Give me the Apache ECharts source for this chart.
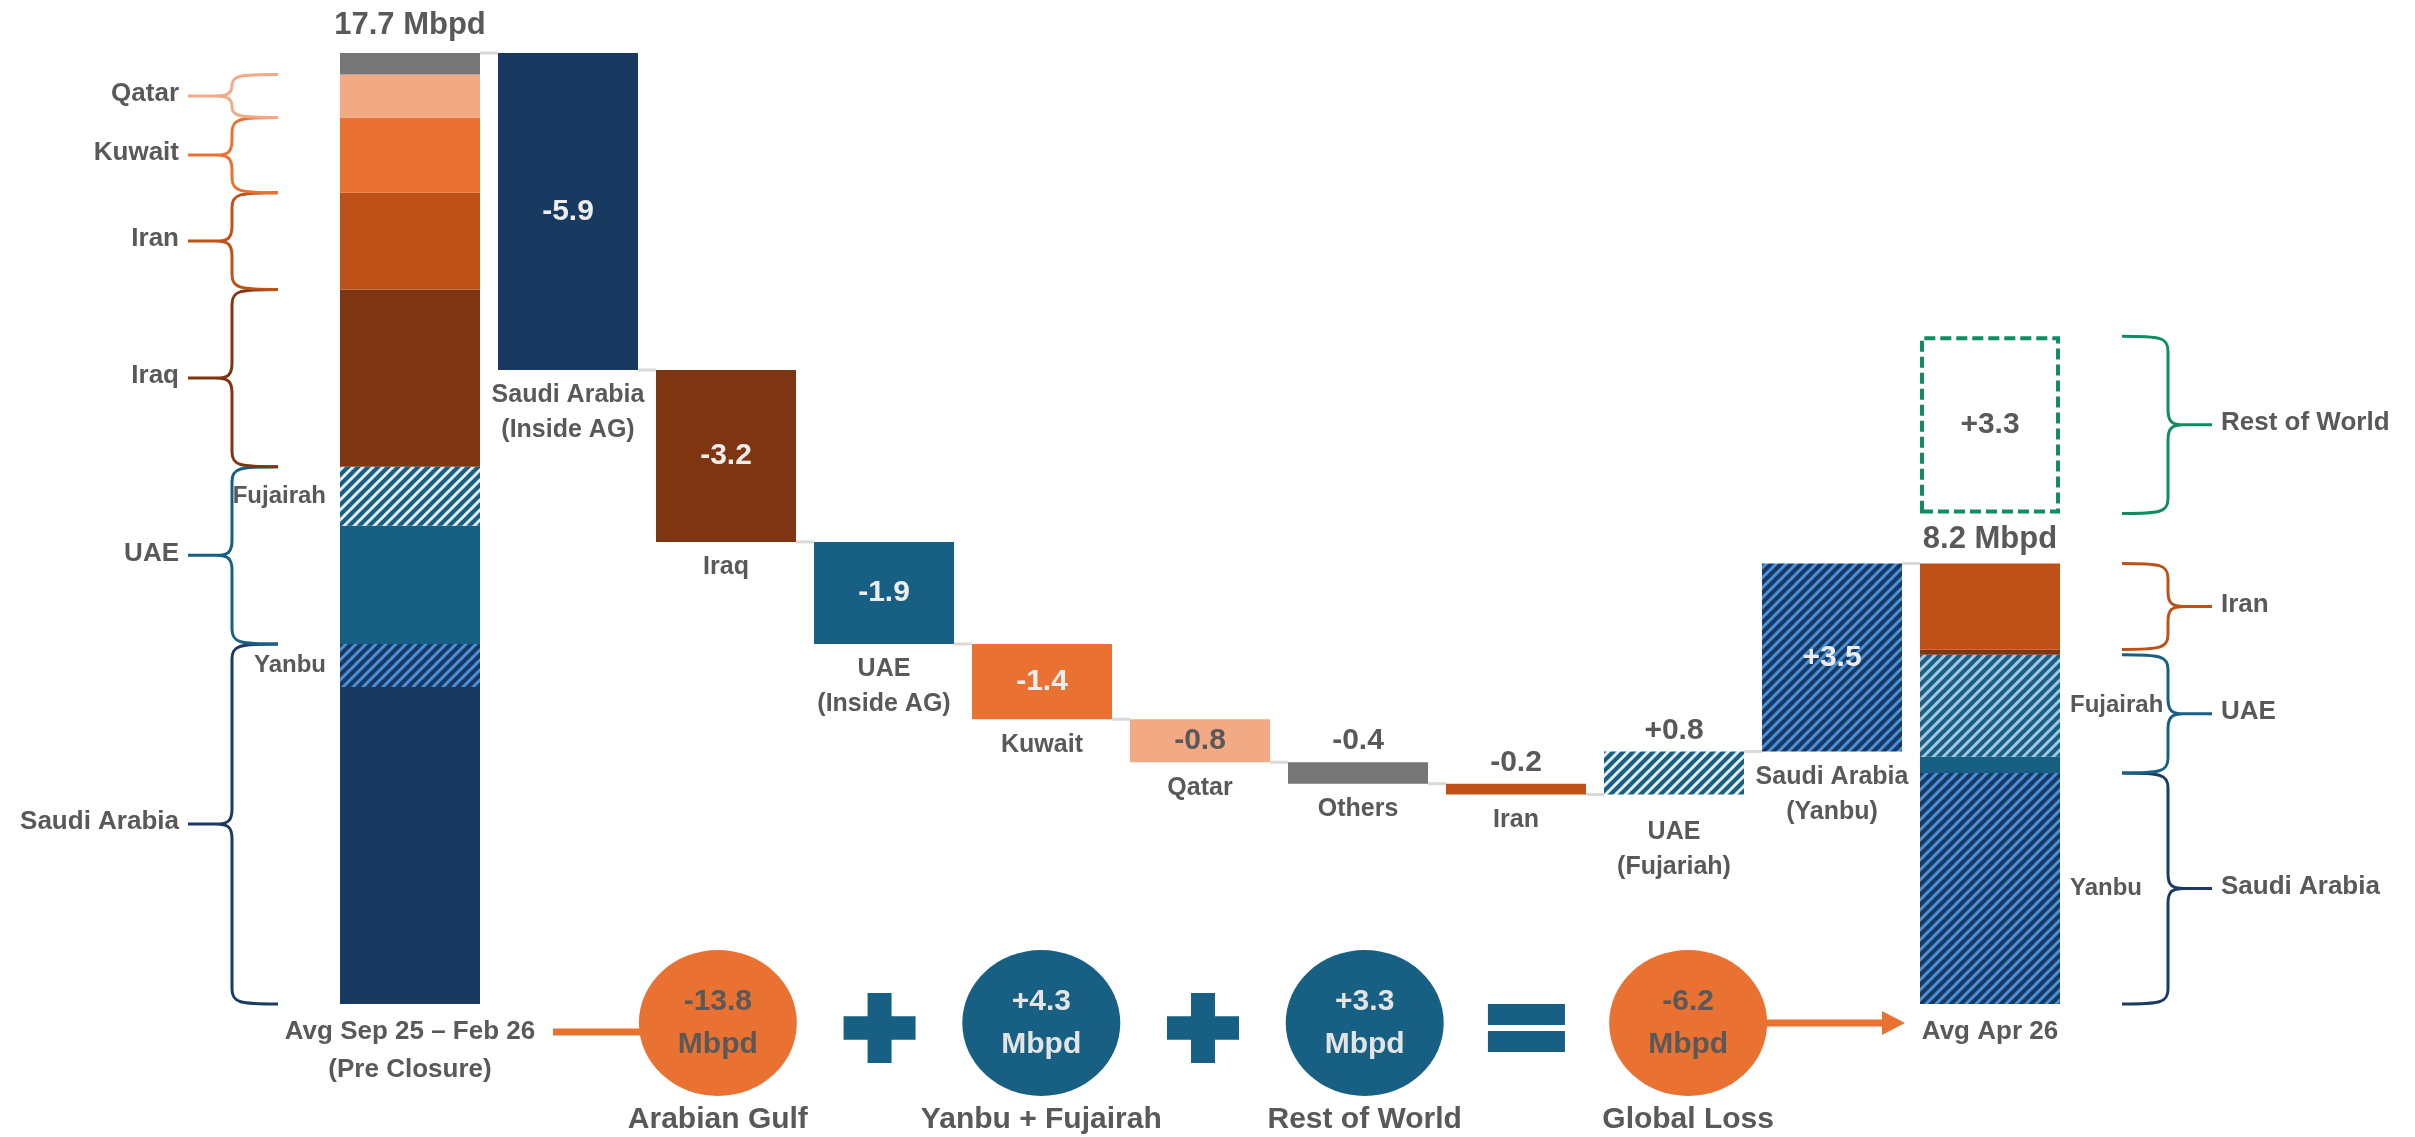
<!DOCTYPE html>
<html><head><meta charset="utf-8">
<script src="https://cdn.jsdelivr.net/npm/echarts@6/dist/echarts.min.js"></script>
<style>html,body{margin:0;padding:0;background:#fff}#chart{width:2415px;height:1137px}</style>
</head><body><div id="chart"></div>
<script>
// ================= DATA =================
const categories = ['Avg Sep 25 – Feb 26\n(Pre Closure)', 'Saudi Arabia\n(Inside AG)', 'Iraq', 'UAE\n(Inside AG)', 'Kuwait', 'Qatar', 'Others', 'Iran', 'UAE\n(Fujariah)', 'Saudi Arabia\n(Yanbu)', 'Avg Apr 26'];
const segments = ['Saudi Arabia', 'Yanbu', 'UAE', 'Fujairah', 'Iraq', 'Iran', 'Kuwait', 'Qatar', 'Others'];
const preClosure = [5.9, 0.8, 2.2, 1.1, 3.3, 1.8, 1.4, 0.8, 0.4];
const changeSegments = ['Saudi Arabia', 'Iraq', 'UAE', 'Kuwait', 'Qatar', 'Others', 'Iran', 'Fujairah', 'Yanbu'];
const changes = [-5.9, -3.2, -1.9, -1.4, -0.8, -0.4, -0.2, 0.8, 3.5];
const april = [0, 4.3, 0.3, 1.9, 0.1, 1.6, 0, 0, 0];
const restOfWorld = 3.3;
const unit = 'Mbpd';
const leftBraceNames = ['Saudi Arabia', 'UAE', 'Iraq', 'Iran', 'Kuwait', 'Qatar'];
const leftBraceSegments = [['Saudi Arabia', 'Yanbu'], ['UAE', 'Fujairah'], ['Iraq'], ['Iran'], ['Kuwait'], ['Qatar']];
const rightBraceNames = ['Saudi Arabia', 'UAE', 'Iran', 'Rest of World'];
const rightBraceSegments = [['Saudi Arabia', 'Yanbu'], ['UAE', 'Fujairah'], ['Iran'], ['Rest of World']];
const subLabels = ['Yanbu', 'Fujairah'];
const eqValues = [-13.8, 4.3, 3.3, -6.2];
const eqNames = ['Arabian Gulf', 'Yanbu + Fujairah', 'Rest of World', 'Global Loss'];
const eqOps = ['+', '+', '='];

// ================= STYLE / LAYOUT =================
const TXT = '#595959', LIGHT = '#EDEDED';
const FONT = "'Liberation Sans', Arial, Helvetica, sans-serif";
const NAVY = '#193A60', TEAL = '#176083', ORANGE = '#E97233', GREEN = '#0E8C64';
const ROW_GAP = 0.93;
const BAR_W = 140;
const BR = { tip: 132, spine: 178, nose: 222, label: 231, r: 15 };

function hatch(bg, fg) {
  const n = 10;
  const cv = document.createElement('canvas'); cv.width = n; cv.height = n;
  const g = cv.getContext('2d');
  g.fillStyle = bg; g.fillRect(0, 0, n, n);
  g.strokeStyle = fg; g.lineWidth = 3;
  g.beginPath();
  for (const o of [-n, 0, n]) { g.moveTo(o - 1, n + 1); g.lineTo(o + n + 1, -1); }
  g.stroke();
  return { image: cv, repeat: 'repeat' };
}
const segColor = {
  'Saudi Arabia': NAVY, 'Yanbu': hatch(NAVY, '#4A90DC'), 'UAE': TEAL, 'Fujairah': hatch(TEAL, '#E6EEF4'),
  'Iraq': '#7F3412', 'Iran': '#BE5117', 'Kuwait': ORANGE, 'Qatar': '#F2AA85', 'Others': '#767676'
};
const aprilColor = { 'Fujairah': hatch(TEAL, '#A5C6E2') };
const braceColor = { 'Saudi Arabia': '#1B3A66', 'UAE': TEAL, 'Iraq': '#7F3412', 'Iran': '#BE5117', 'Kuwait': ORANGE, 'Qatar': '#F2AA85', 'Rest of World': GREEN };
const eqColor = v => v < 0 ? ORANGE : TEAL;
const lbl = (o) => Object.assign({ show: true, fontFamily: FONT, fontWeight: 'bold', color: TXT }, o);

// ================= BUILD =================
const N = categories.length;
const rnd = x => Math.round(x * 100) / 100;
const fmt = v => (v > 0 ? '+' : '') + v.toFixed(1);
const preTotal = rnd(preClosure.reduce((a, b) => a + b, 0));
const aprTotal = rnd(april.reduce((a, b) => a + b, 0));

const baseData = new Array(N).fill('-');
const segData = {};
segments.forEach((s, k) => {
  segData[s] = new Array(N).fill('-');
  if (preClosure[k]) segData[s][0] = preClosure[k];
  if (april[k]) segData[s][N - 1] = april[k];
});
let level = preTotal;
const levels = [preTotal];
changes.forEach((c, i) => {
  const idx = i + 1;
  baseData[idx] = rnd(c < 0 ? level + c : level);
  segData[changeSegments[i]][idx] = Math.abs(c);
  level = rnd(level + c);
  levels.push(level);
});
const topSeg = idx => { let t = null; segments.forEach(s => { if (segData[s][idx] !== '-') t = s; }); return t; };

const series = [];
series.push({
  name: 'base', type: 'bar', stack: 'w', barWidth: BAR_W, silent: true,
  itemStyle: { color: 'transparent' },
  data: baseData.map((v, idx) => v === '-' ? '-' : {
    value: v,
    label: lbl({ position: 'insideTop', distance: 8, fontSize: 25, lineHeight: 35, formatter: categories[idx], offset: idx === 8 ? [0, 12] : [0, 0] })
  })
});
segments.forEach(s => {
  series.push({
    name: s, type: 'bar', stack: 'w', barWidth: BAR_W, silent: true,
    itemStyle: { color: segColor[s] },
    data: segData[s].map((v, idx) => {
      if (v === '-') return '-';
      const item = { value: v };
      if (idx === 0 || idx === N - 1) {
        if (idx === N - 1 && aprilColor[s]) item.itemStyle = { color: aprilColor[s] };
        if (topSeg(idx) === s) {
          const tot = idx === 0 ? preTotal : aprTotal;
          item.label = lbl({ position: 'top', distance: idx === 0 ? 12 : 8, fontSize: 31, formatter: tot.toFixed(1) + ' ' + unit });
        } else if (subLabels.includes(s)) {
          item.label = lbl({ position: idx === 0 ? 'left' : 'right', distance: idx === 0 ? 14 : 10, fontSize: 24, formatter: s });
        }
      } else {
        const c = changes[idx - 1];
        const a = Math.abs(c);
        if (a >= 1) item.label = lbl({ position: 'inside', fontSize: 30, color: LIGHT, formatter: fmt(c) });
        else if (c < 0 && a >= 0.8) item.label = lbl({ position: 'inside', fontSize: 30, formatter: fmt(c) });
        else item.label = lbl({ position: 'top', distance: 6, fontSize: 30, formatter: fmt(c) });
      }
      return item;
    })
  });
});
const gapData = new Array(N).fill('-'); gapData[N - 1] = ROW_GAP;
series.push({ name: 'gap', type: 'bar', stack: 'w', barWidth: BAR_W, silent: true, itemStyle: { color: 'transparent' }, data: gapData });
const rowData = new Array(N).fill('-');
rowData[N - 1] = { value: restOfWorld, label: lbl({ position: 'inside', fontSize: 30, formatter: fmt(restOfWorld) }) };
series.push({
  name: 'Rest of World', type: 'bar', stack: 'w', barWidth: BAR_W, silent: true,
  itemStyle: { color: '#FFFFFF', borderColor: GREEN, borderWidth: 4, borderType: [11, 5] },
  data: rowData
});

// connectors
series.push({
  type: 'custom', silent: true, clip: false, z: 1,
  data: levels.map((L, i) => [i, L]),
  renderItem: (p, api) => {
    const a = api.coord([api.value(0), api.value(1)]);
    const b = api.coord([api.value(0) + 1, api.value(1)]);
    return { type: 'line', shape: { x1: a[0] + BAR_W / 2, y1: a[1], x2: b[0] - BAR_W / 2, y2: b[1] }, style: { stroke: '#D9D9D9', lineWidth: 3 } };
  }
});

// braces
function bounds(vals) { let cum = 0; const m = {}; segments.forEach((s, k) => { m[s] = [cum, rnd(cum + vals[k])]; cum = rnd(cum + vals[k]); }); return m; }
const preB = bounds(preClosure), aprB = bounds(april);
aprB['Rest of World'] = [rnd(aprTotal + ROW_GAP), rnd(aprTotal + ROW_GAP + restOfWorld)];
const braceList = [];
leftBraceNames.forEach((n, k) => { const g = leftBraceSegments[k]; braceList.push({ name: n, side: -1, x: 0, lo: preB[g[0]][0], hi: preB[g[g.length - 1]][1] }); });
rightBraceNames.forEach((n, k) => { const g = rightBraceSegments[k]; braceList.push({ name: n, side: 1, x: N - 1, lo: aprB[g[0]][0], hi: aprB[g[g.length - 1]][1] }); });
series.push({
  type: 'custom', silent: true, clip: false, z: 5,
  data: braceList.map((b, k) => [b.x, b.lo, b.hi, k]),
  renderItem: (p, api) => {
    const b = braceList[api.value(3)];
    const c = api.coord([api.value(0), 0])[0];
    const yB = api.coord([api.value(0), api.value(1)])[1];
    const yT = api.coord([api.value(0), api.value(2)])[1];
    const yM = (yT + yB) / 2, s = b.side;
    const tip = c + s * BR.tip, sp = c + s * BR.spine, nose = c + s * BR.nose;
    const r = Math.min(BR.r, (yB - yT) / 4);
    const d = `M${tip},${yT} C${sp - s * 8},${yT} ${sp},${yT + 1} ${sp},${yT + r} L${sp},${yM - r} C${sp},${yM - 3} ${sp + s * 4},${yM} ${sp + s * 16},${yM} L${nose},${yM} M${sp + s * 16},${yM} C${sp + s * 4},${yM} ${sp},${yM + 3} ${sp},${yM + r} L${sp},${yB - r} C${sp},${yB - 1} ${sp - s * 8},${yB} ${tip},${yB}`;
    return {
      type: 'group', children: [
        { type: 'path', shape: { pathData: d }, style: { stroke: braceColor[b.name], lineWidth: 3, fill: 'none' } },
        { type: 'text', style: { text: b.name, x: c + s * BR.label, y: yM - 2, align: s < 0 ? 'right' : 'left', verticalAlign: 'middle', font: `bold 26px ${FONT}`, fill: TXT } }
      ]
    };
  }
});

// equation row
const slots = [];
eqValues.forEach((v, i) => { slots.push(eqNames[i]); if (i < eqOps.length) slots.push(eqOps[i]); });
const PLUS = 'path://M8,0H16V8H24V16H16V24H8V16H0V8H8Z';
const EQUALS = 'path://M0,0H77V21H0Z M0,27H77V48H0Z';
series.push({
  type: 'scatter', xAxisIndex: 1, yAxisIndex: 1, silent: true, symbol: 'circle', symbolSize: [158, 146],
  itemStyle: { opacity: 1 },
  data: eqValues.map((v, i) => ({
    value: [2 * i, 0], itemStyle: { color: eqColor(v), opacity: 1 },
    label: lbl({ position: 'inside', fontSize: 30, lineHeight: 43, color: v < 0 ? TXT : '#E4E4E4', formatter: fmt(v) + '\n' + unit })
  }))
});
series.push({
  type: 'scatter', xAxisIndex: 1, yAxisIndex: 1, silent: true, symbolOffset: [0, 5],
  itemStyle: { color: TEAL, opacity: 1 },
  data: eqOps.map((op, i) => ({ value: [2 * i + 1, 0], symbol: op === '+' ? PLUS : EQUALS, symbolSize: op === '+' ? [72, 70] : [77, 48] }))
});

const option = {
  animation: false,
  backgroundColor: '#ffffff',
  grid: [
    { left: 331, right: 346, top: 10, bottom: 133, outerBoundsMode: 'none', containLabel: false },
    { left: 637, right: 646, top: 1013, height: 20, outerBoundsMode: 'none', containLabel: false }
  ],
  xAxis: [
    {
      type: 'category', gridIndex: 0, data: categories, boundaryGap: true,
      axisLine: { show: false }, axisTick: { show: false }, splitLine: { show: false },
      axisLabel: { interval: 0, margin: 9, fontFamily: FONT, fontWeight: 'bold', fontSize: 26, lineHeight: 38, color: TXT,
        formatter: (v, i) => (i === 0 || i === N - 1) ? v : '' }
    },
    {
      type: 'category', gridIndex: 1, data: slots, boundaryGap: true,
      axisLine: { show: false }, axisTick: { show: false }, splitLine: { show: false },
      axisLabel: { interval: 0, margin: 70, fontFamily: FONT, fontWeight: 'bold', fontSize: 30, lineHeight: 34, color: TXT,
        formatter: (v, i) => i % 2 === 0 ? v : '' }
    }
  ],
  yAxis: [
    { type: 'value', gridIndex: 0, min: 0, max: 18.5, show: false, splitLine: { show: false } },
    { type: 'value', gridIndex: 1, min: -1, max: 1, show: false, splitLine: { show: false } }
  ],
  series: series
};

const chart = echarts.init(document.getElementById('chart'), null, { renderer: 'canvas' });
chart.setOption(option);

// arrows, anchored to library coordinates
const p0 = chart.convertToPixel({ xAxisIndex: 0, yAxisIndex: 0 }, [0, 0]);
const pN = chart.convertToPixel({ xAxisIndex: 0, yAxisIndex: 0 }, [N - 1, 0]);
const c0 = chart.convertToPixel({ xAxisIndex: 1, yAxisIndex: 1 }, [0, 0]);
const cL = chart.convertToPixel({ xAxisIndex: 1, yAxisIndex: 1 }, [2 * (eqValues.length - 1), 0]);
const ay1 = c0[1] + 9, ay2 = cL[1];
const tipX = pN[0] - 85;
chart.setOption({
  graphic: [
    { type: 'line', shape: { x1: p0[0] + 143, y1: ay1, x2: c0[0] - 76, y2: ay1 }, style: { stroke: ORANGE, lineWidth: 7 }, z: 0 },
    { type: 'line', shape: { x1: cL[0] + 76, y1: ay2, x2: tipX - 20, y2: ay2 }, style: { stroke: ORANGE, lineWidth: 7 }, z: 0 },
    { type: 'polygon', shape: { points: [[tipX - 23, ay2 - 12], [tipX, ay2], [tipX - 23, ay2 + 12]] }, style: { fill: ORANGE }, z: 0 }
  ]
});
</script></body></html>
